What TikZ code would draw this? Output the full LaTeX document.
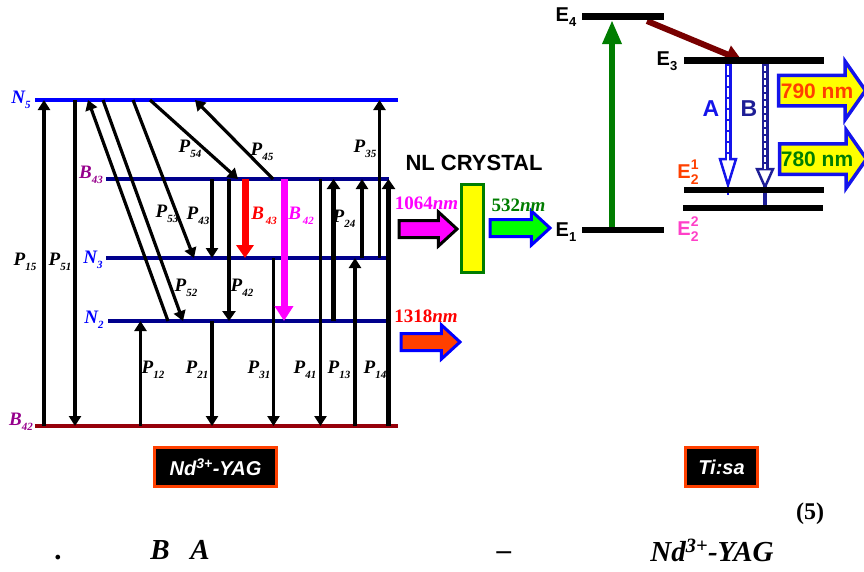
\documentclass[tikz,border=0pt]{standalone}
\usepackage{fontspec}
\setmainfont{Liberation Serif}
\newfontfamily\arialfont{Liberation Sans}
\usetikzlibrary{arrows.meta,shapes.arrows}
\definecolor{navylevel}{RGB}{0,0,140}
\definecolor{darklevel}{RGB}{150,0,10}
\definecolor{purplab}{RGB}{150,0,140}
\definecolor{maroonarrow}{RGB}{120,0,0}
\definecolor{greenarrow}{RGB}{0,125,0}
\definecolor{orangelab}{RGB}{255,64,0}
\definecolor{pinklab}{RGB}{255,64,200}
\definecolor{ablue}{RGB}{20,20,235}
\definecolor{bblue}{RGB}{30,30,150}
\definecolor{puremagenta}{RGB}{255,0,255}
\definecolor{puregreen}{RGB}{0,255,0}
\definecolor{pureyellow}{RGB}{255,255,0}
\newcommand{\lev}[2]{#1\raisebox{-4.5pt}{\fontsize{11}{11}\selectfont #2}}
\newcommand{\eng}[2]{E\raisebox{-4.5pt}{\fontsize{13}{13}\selectfont #2}}
\newcommand{\engtwo}[1]{E\makebox[0pt][l]{\raisebox{9pt}{\fontsize{14}{14}\selectfont #1}}\raisebox{-6pt}{\fontsize{14}{14}\selectfont 2}}
\tikzset{
  level/.style={line width=4.5pt},
  elevel/.style={line width=6.5pt,black},
  trans/.style={line width=3.2pt,-{Triangle[length=10pt,width=12pt]}},
  thicktrans/.style={line width=4.5pt,-{Triangle[length=10pt,width=13pt]}},
  plab/.style={font=\fontsize{19}{19}\selectfont\bfseries\itshape,inner sep=0pt,yshift=-2pt},
  elab/.style={font=\arialfont\fontsize{20}{20}\selectfont\bfseries,inner sep=0pt},
  wavelab/.style={font=\fontsize{19}{19}\selectfont\bfseries,inner sep=0pt},
  bigarrow/.style={single arrow,draw,line width=3pt,inner xsep=0pt,outer sep=0pt,anchor=tail,single arrow head indent=0pt},
  smallarrow/.style={bigarrow,inner ysep=7pt,single arrow head extend=8.5pt,single arrow tip angle=85},
  pumparrow/.style={bigarrow,inner ysep=13.5pt,single arrow head extend=14pt,single arrow tip angle=110,line width=3.5pt,draw=ablue,fill=pureyellow},
  namebox/.style={draw=orangelab,fill=black,line width=3.5pt,text=white,font=\arialfont\fontsize{20}{20}\selectfont\bfseries\itshape,inner sep=0pt,minimum height=39pt},
  hollow/.style={line width=7pt},
  foot/.style={font=\fontsize{29}{29}\selectfont\bfseries\itshape,inner sep=0pt}
}
\begin{document}
\begin{tikzpicture}[x=1pt,y=-1pt]
\useasboundingbox (0,0) rectangle (864,571);

% levels of the YAG side
\coordinate (N5) at (35,100);
\coordinate (B43) at (106,179);
\coordinate (N3) at (106,258);
\coordinate (N2) at (108,321);
\coordinate (B42) at (35,426);
\draw[level,blue] (N5) -- (398,100);
\draw[level,navylevel] (B43) -- (389,179);
\draw[level,navylevel] (N3) -- (388,258);
\draw[level,navylevel] (N2) -- (388,321);
\draw[level,darklevel] (B42) -- (398,426);

% vertical transitions
\foreach \px/\pa/\pb in {44/B42/N5,75/N5/B42,140.5/B42/N2,212/B43/N3,212/N2/B42,273.5/N3/B42,320.5/B43/B42,355/B42/N3,362/N3/B43,379.5/N3/N5}
{
\draw[trans] (\px,0 |- \pa) -- (\px,0 |- \pb);
}
\foreach \px/\pa/\pb in {229/B43/N2,333.5/N2/B43,388.5/B42/B43}
{
\draw[thicktrans] (\px,0 |- \pa) -- (\px,0 |- \pb);
}
% slanted transitions
\draw[trans] (168,0 |- N2) -- (88,0 |- N5);
\draw[trans] (103,0 |- N5) -- (183,0 |- N2);
\draw[trans] (133,0 |- N5) -- (194,0 |- N3);
\draw[trans] (150,0 |- N5) -- (238,0 |- B43);
\draw[trans] (273,0 |- B43) -- (195,0 |- N5);

% laser lines
\draw[red,line width=7pt,-{Triangle[length=13pt,width=17pt]}] (245,0 |- B43) -- (245,0 |- N3);
\draw[puremagenta,line width=7pt,-{Triangle[length=15pt,width=18pt]}] (284,0 |- B43) -- (284,0 |- N2);

% labels
\foreach \n/\x/\y in {54/190/147,45/262/150,35/365/147,53/167/212,43/198/214,24/344/217,52/186/286,42/242/286,15/25/260,51/60/260,12/153/368,21/197/368,31/259/368,41/305/368,13/339/368,14/375/368}
{
\node[plab] (P\n) at (\x,\y) {\lev{P}{\n}};
}
\node[plab,blue] (labN5) at (21,98) {\lev{N}{5}};
\node[plab,blue] (labN3) at (93,258) {\lev{N}{3}};
\node[plab,blue] (labN2) at (94,318) {\lev{N}{2}};
\node[plab,purplab] (labB43) at (91,173) {\lev{B}{43}};
\node[plab,purplab] (labB42) at (21,420) {\lev{B}{42}};
\node[plab,red] (labR) at (264,214) {\lev{B}{\,43}};
\node[plab,puremagenta] (labM) at (301,214) {\lev{B}{\,42}};

% crystal and beams
\node[elab] (nl) at (474,163) {\fontsize{22}{22}\selectfont NL CRYSTAL};
\node[draw=greenarrow,fill=pureyellow,line width=3pt,minimum width=22pt,minimum height=88pt,inner sep=0pt] (crystal) at (472.5,228.5) {};
\node[smallarrow,fill=puremagenta,minimum height=58pt] (beamA) at (399,229) {};
\node[smallarrow,draw=blue,fill=puregreen,minimum height=60pt] (beamB) at (490,228) {};
\node[smallarrow,draw=blue,fill=orangelab,minimum height=59pt] (beamC) at (401,342) {};
\node[wavelab,puremagenta] (w1064) at (426.5,203) {1064\textit{nm}};
\node[wavelab,greenarrow] (w532) at (518.5,205) {532\textit{nm}};
\node[wavelab,red] (w1318) at (426,316) {1318\textit{nm}};

% Ti:sa side
\coordinate (E4) at (582,16.5);
\coordinate (E1) at (582,230);
\coordinate (E3) at (684,60.5);
\coordinate (Ea) at (684,190);
\coordinate (Eb) at (683,208);
\draw[greenarrow,line width=6pt,-{Triangle[length=24pt,width=18pt]}] (612,0 |- E1) -- (612,20);
\draw[maroonarrow,line width=6pt,-{Triangle[length=16pt,width=18pt]}] (647,21) -- (742,0 |- E3);

\draw[ablue,hollow] (728,0 |- E3) -- (728,162);
\draw[ablue,line width=2.5pt] (728,183) -- (728,195);
\draw[ablue,line width=2.5pt,fill=white] (720,159) -- (736,159) -- (728,185) -- cycle;
\draw[white,line width=1.2pt,dash pattern=on 9pt off 2pt] (728,66) -- (728,178);
\draw[bblue,hollow] (765,0 |- E3) -- (765,172);
\draw[bblue,line width=3.5pt] (765,185) -- (765,207);
\draw[bblue,line width=2.5pt,fill=white] (757,169) -- (773,169) -- (765,187) -- cycle;
\draw[white,line width=1.2pt,dash pattern=on 5pt off 2pt] (765,66) -- (765,180);

\draw[elevel] (E4) -- (664,16.5);
\draw[elevel] (E1) -- (664,230);
\draw[elevel] (E3) -- (824,60.5);
\draw[elevel] (Ea) -- (824,190);
\draw[elevel] (Eb) -- (823,208);

\node[elab] (labE4) at (566,17) {\eng{E}{4}};
\node[elab] (labE3) at (667,61) {\eng{E}{3}};
\node[elab] (labE1) at (566,232) {\eng{E}{1}};
\node[elab,orangelab] (labEa) at (688,172) {\engtwo{1}};
\node[elab,pinklab] (labEb) at (688,229) {\engtwo{2}};
\node[elab,ablue,font=\arialfont\fontsize{23}{23}\selectfont\bfseries] (labA) at (711,109) {A};
\node[elab,bblue,font=\arialfont\fontsize{23}{23}\selectfont\bfseries] (labB) at (749,109) {B};

\node[pumparrow,minimum height=87pt] (pumpA) at (778.5,90.5) {};
\node[pumparrow,minimum height=87pt] (pumpB) at (779.5,159) {};
\node[elab,orangelab] (t790) at (817,91) {\fontsize{21}{21}\selectfont 790 nm};
\node[elab,greenarrow] (t780) at (817,159) {\fontsize{21}{21}\selectfont 780 nm};

% name boxes
\node[namebox,minimum width=122pt] (yag) at (215.5,467) {Nd\textsuperscript{3+}-YAG};
\node[namebox,minimum width=72pt] (tisa) at (721.5,467) {Ti:sa};

% caption fragments
\node[font=\fontsize{24}{24}\selectfont\bfseries,inner sep=0pt] (num) at (810,514) {(5)};
\node[foot] (dot) at (59,558) {.};
\node[foot] (footB) at (160,550) {B};
\node[foot] (footA) at (200,550) {A};
\node[foot] (dash) at (504,556) {--};
\node[foot] (footY) at (712,550) {Nd\textsuperscript{3+}-YAG};
\end{tikzpicture}
\end{document}
